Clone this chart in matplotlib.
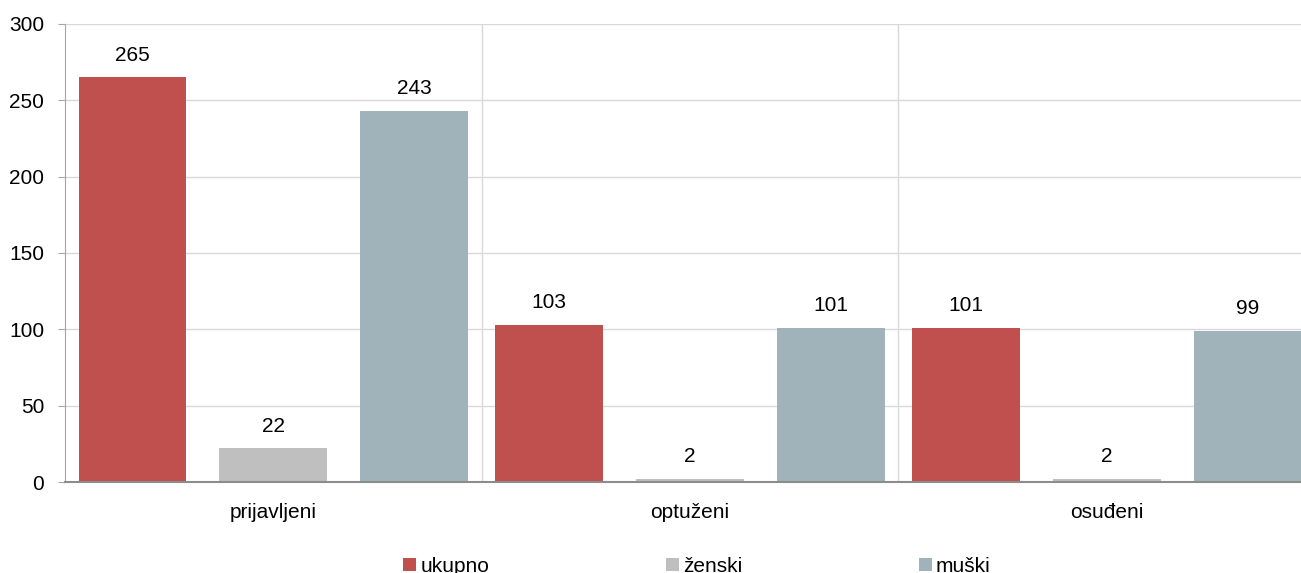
import matplotlib
matplotlib.use("Agg")
import matplotlib.pyplot as plt
from matplotlib.patches import Patch
import numpy as np

plt.rcParams['font.family'] = ['Liberation Sans', 'DejaVu Sans']

categories = ["prijavljeni", "optuženi", "osuđeni"]
series_names = ["ukupno", "ženski", "muški"]
ukupno = [265, 103, 101]
zenski = [22, 2, 2]
muski = [243, 101, 99]
colors = ["#C0504D", "#BFBFBF", "#A0B3BA"]
yticks = [0, 50, 100, 150, 200, 250, 300]

FS = 15
W, H = 1301, 573
fig = plt.figure(figsize=(W / 100, H / 100), dpi=100)
left, right_px, top, bottom = 65, 1315, 24, 482
ax = fig.add_axes([left / W, 1 - bottom / H, (right_px - left) / W, (bottom - top) / H])

x = np.arange(len(categories))
offs = 0.338
bw = 0.259
data = [ukupno, zenski, muski]
for i, (vals, c) in enumerate(zip(data, colors)):
    pos = x + (i - 1) * offs
    ax.bar(pos, vals, width=bw, color=c, zorder=3)
    for p, v in zip(pos, vals):
        ax.annotate(str(v), (p, v), xytext=(0, 12), textcoords='offset points',
                    ha='center', va='baseline', fontsize=FS, color='black', zorder=4)

ax.set_xlim(-0.5, len(categories) - 0.5)
ax.set_ylim(0, 300)
ax.set_yticks(yticks)
ax.set_yticklabels([str(t) for t in yticks], fontsize=FS)
ax.set_xticks(x)
ax.set_xticklabels(categories, fontsize=FS)
ax.tick_params(axis='x', length=0, pad=15)
ax.tick_params(axis='y', length=5, color='#A6A6A6', pad=10)

ax.grid(axis='y', color='#D9D9D9', linewidth=1, zorder=0)
for b in [0.5, 1.5]:
    ax.axvline(b, color='#D9D9D9', linewidth=1, zorder=0)

for s in ['top', 'right']:
    ax.spines[s].set_visible(False)
ax.spines['left'].set_color('#A6A6A6')
ax.spines['bottom'].set_color('#8C8C8C')
ax.spines['bottom'].set_linewidth(1.5)
ax.spines['bottom'].set_zorder(5)

handles = [Patch(facecolor=c, edgecolor='none') for c in colors]
fig.legend(handles, series_names, loc='center', bbox_to_anchor=(697 / W, 1 - 566 / H),
           ncol=3, frameon=False, fontsize=FS, handlelength=0.6, handleheight=0.6,
           handletextpad=0.2, columnspacing=8.5)

fig.savefig("out.png", dpi=100)
